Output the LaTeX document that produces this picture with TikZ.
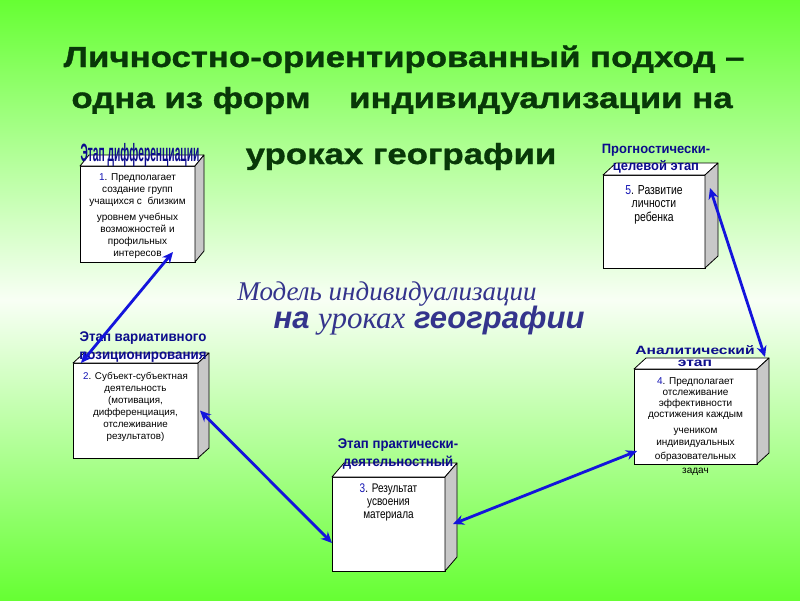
\documentclass[tikz,border=0pt]{standalone}
\usepackage{fontspec}
\setmainfont{Liberation Sans}
\newfontfamily\serifital{Liberation Serif}
\newfontfamily\narrowsans[FakeStretch=0.8]{Liberation Sans}
\newfontfamily\widesans[FakeStretch=1.2,FakeBold=1.2]{Liberation Sans}
\usetikzlibrary{arrows.meta,calc}
\definecolor{gtop}{RGB}{102,255,51}
\definecolor{gmid}{RGB}{248,255,245}
\definecolor{titlegreen}{RGB}{8,56,8}
\definecolor{navy}{RGB}{12,12,140}
\definecolor{arrowblue}{RGB}{20,20,220}
\definecolor{numblue}{RGB}{20,20,180}
\definecolor{modelblue}{RGB}{52,52,140}
\definecolor{sidegray}{RGB}{200,200,200}
\newcommand\cubesides[3]{%
  \draw[topface] (#1.north west) -- ++(#2,#3) -- ($(#1.north east)+(#2,#3)$) -- (#1.north east) -- cycle;
  \draw[sideface] (#1.north east) -- ++(#2,#3) -- ($(#1.south east)+(#2,#3)$) -- (#1.south east) -- cycle;
}
\newcommand\num[1]{\textcolor{numblue}{#1}}
\begin{document}
\begin{tikzpicture}[x=1pt,y=-1pt,
  face/.style={draw=black, fill=white, line width=0.8pt, inner sep=0pt, outer sep=0pt, anchor=north west},
  topface/.style={draw=black, fill=white, line width=0.8pt, line join=round},
  sideface/.style={draw=black, fill=sidegray, line width=0.8pt, line join=round},
  boxtext/.style={anchor=north, align=center, inner sep=0pt, text=black},
  stagelabel/.style={text=navy, align=center, inner sep=0pt, anchor=north},
  titletext/.style={text=titlegreen, font=\widesans\fontsize{29}{34}\selectfont\bfseries, anchor=base, inner sep=0pt},
  link/.style={draw=arrowblue, line width=2.8pt, {Stealth[length=11pt,width=10pt]}-{Stealth[length=11pt,width=10pt]}},
]
% background
\useasboundingbox (0,0) rectangle (800,600);
\shade[top color=gtop, bottom color=gtop, middle color=gmid] (0,0) rectangle (800,600);

% title
\node[titletext] (title1) at (404,67) {Личностно-ориентированный подход –};
\node[titletext] (title2) at (402,108) {одна из форм\hspace{1.0em} индивидуализации на};
\node[titletext] (title3) at (401,164) {уроках географии};

% cubes
\node[face, minimum width=115, minimum height=96] (b1) at (80,166) {};
\cubesides{b1}{9}{-11}
\node[face, minimum width=102, minimum height=93] (b5) at (603,175) {};
\cubesides{b5}{13}{-12}
\node[face, minimum width=125, minimum height=95] (b2) at (73,363) {};
\cubesides{b2}{11}{-10}
\node[face, minimum width=123, minimum height=95] (b4) at (634,369) {};
\cubesides{b4}{12}{-11}
\node[face, minimum width=113, minimum height=94] (b3) at (332,477) {};
\cubesides{b3}{12}{-14}

% stage labels
\node[stagelabel, font={\fontsize{25}{25}\selectfont\addfontfeatures{FakeStretch=0.41}\bfseries}] (l1) at (140,143) {Этап дифференциации};
\node[stagelabel, font={\fontsize{13.5}{17.5}\selectfont\addfontfeatures{FakeStretch=0.96}\bfseries}] (l5) at (656,144) {Прогностически-\\целевой этап};
\node[stagelabel, font={\fontsize{14}{18}\selectfont\addfontfeatures{FakeStretch=0.95}\bfseries}] (l2) at (143,332) {Этап вариативного\\позиционирования};
\node[stagelabel, font={\fontsize{12}{12.5}\selectfont\addfontfeatures{FakeStretch=1.3}\bfseries}] (l4) at (695,345) {Аналитический\\этап};
\node[stagelabel, font={\fontsize{14}{17.5}\selectfont\addfontfeatures{FakeStretch=0.94}\bfseries}] (l3) at (398,439) {Этап практически-\\деятельностный};

% box texts
\node[boxtext, font=\fontsize{10}{12}\selectfont] (t1) at ($(b1.north)+(0,7)$)
  {\num{1}. Предполагает\\создание групп\\учащихся с\ \ близким\\[4pt]уровнем учебных\\возможностей и\\профильных\\интересов};
\node[boxtext, font=\narrowsans\fontsize{13}{13.5}\selectfont] (t5) at ($(b5.north)+(0,10)$)
  {\num{5}. Развитие\\личности\\ребенка};
\node[boxtext, font=\fontsize{9.8}{12}\selectfont] (t2) at ($(b2.north)+(0,9)$)
  {\num{2}. Субъект-субъектная\\деятельность\\(мотивация,\\дифференциация,\\отслеживание\\результатов)};
\node[boxtext, font=\fontsize{10}{11.3}\selectfont] (t4) at ($(b4.north)+(0,8)$)
  {\num{4}. Предполагает\\отслеживание\\эффективности\\достижения каждым\\[4.5pt]учеником\\индивидуальных\\[3pt]образовательных\\[2.5pt]задач};
\node[boxtext, font=\narrowsans\fontsize{12.5}{13}\selectfont] (t3) at ($(b3.north)+(0,7)$)
  {\num{3}. Результат\\усвоения\\материала};

% central caption
\node[text=modelblue, font=\serifital\itshape\fontsize{27}{30}\selectfont, anchor=base, inner sep=0pt] (m1) at (387,300) {Модель индивидуализации};
\node[text=modelblue, font=\fontsize{31}{33}\selectfont, anchor=base, inner sep=0pt] (m2) at (429,328)
  {\bfseries\itshape на {\serifital\mdseries\itshape уроках} географии};

% connectors
\coordinate (a1s) at ($(b1.south east)+(-22,-10)$);
\coordinate (a1e) at ($(b2.north west)+(8,0)$);
\coordinate (a2s) at ($(b2.east)+(2,0)$);
\coordinate (a2e) at ($(b3.west)+(0,19)$);
\coordinate (a3s) at ($(b3.east)+(8,0)$);
\coordinate (a3e) at ($(b4.south west)+(3,-13)$);
\coordinate (a4s) at ($(b5.north east)+(5,13)$);
\coordinate (a4e) at ($(b4.north east)+(8,-12)$);
\draw[link] (a1s) -- (a1e);
\draw[link] (a2s) -- (a2e);
\draw[link] (a3s) -- (a3e);
\draw[link] (a4s) -- (a4e);
\end{tikzpicture}
\end{document}
